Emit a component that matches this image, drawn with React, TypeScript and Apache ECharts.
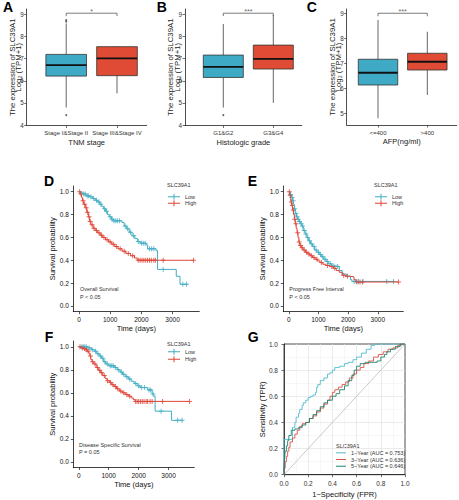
import { useEffect, useRef } from 'react';
import * as echarts from 'echarts';

const FONT = '"Liberation Sans", Arial, Helvetica, sans-serif';
const BOX_BLUE = '#3FAAC6';
const BOX_RED = '#E04B35';
const KM_LOW = '#41AEC3';
const KM_HIGH = '#DF4537';
const ROC_1 = '#52BCCD';
const ROC_3 = '#D9534A';
const ROC_5 = '#1E8470';

// ---------- Panels A–C (box plots) ----------
const catsA = ['Stage I&Stage II', 'Stage III&Stage IV'];
const catsB = ['G1&G2', 'G3&G4'];
const catsC = ['<=400', '>400'];
// [min, Q1, median, Q3, max]
const boxA = [[4.79, 6.21, 6.71, 7.19, 8.59], [5.43, 6.23, 7.01, 7.54, 7.56]];
const boxB = [[4.79, 6.15, 6.63, 7.16, 8.56], [5.0, 6.53, 6.99, 7.61, 8.97]];
const boxC = [[4.8, 6.13, 6.62, 7.16, 8.73], [5.73, 6.73, 7.06, 7.4, 8.26]];
const outA = [[1, 8.74], [1, 8.67], [1, 4.45]];
const outB = [[1, 4.45]];
const outC: number[][] = [];
const sigA = '*';
const sigB = '***';
const sigC = '***';
const yTicksAB = [4, 5, 6, 7, 8, 9];
const yTicksC = [5, 6, 7, 8, 9];

// ---------- Panels D–F (Kaplan–Meier) [time, survival] ----------
const osLow = [[0, 1], [60, 0.99], [130, 0.98], [210, 0.965], [330, 0.955], [440, 0.94], [520, 0.925], [600, 0.91], [670, 0.89], [730, 0.87], [790, 0.85], [850, 0.83], [910, 0.8], [970, 0.78], [1040, 0.76], [1100, 0.745], [1380, 0.73], [1450, 0.7], [1530, 0.675], [1610, 0.645], [1700, 0.615], [1790, 0.59], [1880, 0.565], [1960, 0.55], [2150, 0.535], [2200, 0.5], [2470, 0.485], [2520, 0.32], [3120, 0.26], [3240, 0.19], [3480, 0.19]];
const osHigh = [[0, 1], [40, 0.98], [80, 0.95], [110, 0.92], [150, 0.89], [200, 0.86], [250, 0.82], [300, 0.78], [340, 0.74], [380, 0.71], [450, 0.68], [520, 0.66], [600, 0.64], [680, 0.62], [760, 0.6], [850, 0.58], [950, 0.56], [1050, 0.54], [1150, 0.52], [1250, 0.5], [1380, 0.48], [1500, 0.46], [1650, 0.44], [1780, 0.42], [1870, 0.4], [3675, 0.4]];
const osLowCens = [150, 200, 260, 300, 380, 470, 560, 640, 700, 820, 880, 1000, 1060, 1120, 1180, 1230, 1300, 1480, 1560, 1650, 1750, 1900, 2000, 2060, 2120, 2260, 2330, 2400, 2700, 3330, 3450];
const osHighCens = [20, 60, 130, 180, 230, 270, 320, 360, 420, 480, 560, 640, 720, 800, 900, 1000, 1100, 1200, 1320, 1450, 1580, 1720, 1900, 1960, 2020, 2080, 2140, 2200, 2260, 2320, 2400, 2450, 2700, 3675];

const pfiLow = [[0, 1], [40, 0.975], [90, 0.95], [130, 0.92], [160, 0.89], [190, 0.85], [220, 0.81], [260, 0.78], [300, 0.76], [340, 0.74], [400, 0.72], [440, 0.7], [490, 0.66], [550, 0.63], [610, 0.6], [670, 0.57], [730, 0.545], [800, 0.52], [870, 0.49], [950, 0.47], [1030, 0.45], [1100, 0.43], [1180, 0.41], [1260, 0.39], [1330, 0.37], [1450, 0.35], [1600, 0.345], [1700, 0.31], [1800, 0.28], [1950, 0.26], [2080, 0.23], [2130, 0.215], [3530, 0.215]];
const pfiHigh = [[0, 1], [30, 0.97], [60, 0.94], [80, 0.91], [100, 0.88], [130, 0.84], [160, 0.8], [190, 0.76], [220, 0.72], [250, 0.68], [280, 0.64], [310, 0.6], [340, 0.56], [370, 0.53], [420, 0.51], [480, 0.49], [560, 0.47], [640, 0.455], [720, 0.44], [800, 0.425], [880, 0.41], [960, 0.395], [1050, 0.38], [1150, 0.365], [1250, 0.355], [1380, 0.345], [1500, 0.33], [1600, 0.31], [1700, 0.295], [1800, 0.27], [1900, 0.26], [2050, 0.255], [2200, 0.23], [2260, 0.21], [3700, 0.21]];
const pfiLowCens = [60, 110, 150, 200, 240, 280, 320, 360, 420, 460, 520, 580, 640, 700, 760, 850, 920, 1000, 1070, 1150, 1220, 1300, 1400, 1520, 1650, 2200, 2280, 2350, 2500, 3300, 3530];
const pfiHighCens = [20, 50, 90, 120, 150, 200, 240, 300, 350, 400, 450, 520, 600, 680, 760, 850, 950, 1100, 1300, 1450, 1550, 1850, 1980, 2300, 2400, 2480, 3700];

const dssLow = [[0, 1], [300, 0.99], [420, 0.975], [520, 0.96], [600, 0.94], [680, 0.92], [760, 0.9], [830, 0.87], [900, 0.85], [1000, 0.835], [1200, 0.82], [1280, 0.8], [1380, 0.78], [1460, 0.76], [1550, 0.74], [1650, 0.72], [1750, 0.7], [1850, 0.68], [1950, 0.66], [2050, 0.645], [2300, 0.625], [2450, 0.59], [2500, 0.57], [2550, 0.44], [3100, 0.36], [3480, 0.36]];
const dssHigh = [[0, 1], [80, 0.99], [150, 0.985], [220, 0.975], [280, 0.96], [330, 0.945], [370, 0.92], [400, 0.89], [440, 0.87], [500, 0.85], [580, 0.82], [650, 0.795], [720, 0.775], [800, 0.75], [880, 0.725], [940, 0.705], [1020, 0.69], [1100, 0.67], [1180, 0.655], [1260, 0.635], [1350, 0.615], [1450, 0.6], [1550, 0.585], [1650, 0.57], [1750, 0.555], [1820, 0.54], [1880, 0.525], [3700, 0.525]];
const dssLowCens = [100, 150, 200, 250, 350, 450, 560, 640, 720, 800, 870, 950, 1050, 1100, 1150, 1220, 1320, 1420, 1500, 1600, 1700, 1900, 2000, 2100, 2200, 2350, 2400, 2480, 2750, 3300, 3450];
const dssHighCens = [40, 120, 190, 250, 310, 390, 460, 540, 620, 700, 760, 850, 960, 1060, 1140, 1220, 1300, 1400, 1500, 1600, 1700, 1900, 1950, 2000, 2060, 2120, 2180, 2250, 2300, 2380, 2450, 2800, 3700];

const kmTimeTicks = [0, 1000, 2000, 3000];
const kmProbTicks = [0, 0.2, 0.4, 0.6, 0.8, 1.0];

// ---------- Panel G (ROC) [FPR, TPR] ----------
const roc1 = [[0, 0], [0, 0.27], [0.07, 0.27], [0.07, 0.34], [0.09, 0.36], [0.1, 0.4], [0.12, 0.44], [0.13, 0.47], [0.15, 0.5], [0.16, 0.53], [0.18, 0.55], [0.2, 0.57], [0.22, 0.59], [0.24, 0.6], [0.26, 0.61], [0.27, 0.63], [0.28, 0.67], [0.3, 0.69], [0.33, 0.72], [0.36, 0.74], [0.38, 0.77], [0.4, 0.78], [0.42, 0.8], [0.46, 0.82], [0.5, 0.83], [0.53, 0.85], [0.57, 0.86], [0.6, 0.88], [0.64, 0.9], [0.68, 0.93], [0.72, 0.96], [0.75, 0.99], [0.77, 1.0], [1, 1]];
const roc3 = [[0, 0], [0.01, 0.05], [0.02, 0.1], [0.03, 0.14], [0.04, 0.18], [0.05, 0.21], [0.07, 0.25], [0.09, 0.28], [0.11, 0.31], [0.13, 0.34], [0.15, 0.37], [0.18, 0.39], [0.21, 0.4], [0.24, 0.43], [0.27, 0.45], [0.3, 0.48], [0.33, 0.51], [0.36, 0.54], [0.38, 0.57], [0.4, 0.6], [0.42, 0.63], [0.45, 0.65], [0.48, 0.67], [0.51, 0.69], [0.54, 0.71], [0.57, 0.74], [0.6, 0.77], [0.63, 0.8], [0.66, 0.82], [0.7, 0.85], [0.74, 0.87], [0.78, 0.9], [0.82, 0.92], [0.86, 0.94], [0.9, 0.96], [0.94, 0.97], [0.97, 0.99], [1, 1]];
const roc5 = [[0, 0], [0.005, 0.06], [0.01, 0.12], [0.02, 0.18], [0.03, 0.22], [0.04, 0.26], [0.06, 0.3], [0.09, 0.34], [0.12, 0.35], [0.15, 0.36], [0.18, 0.38], [0.21, 0.4], [0.24, 0.43], [0.27, 0.46], [0.3, 0.49], [0.33, 0.52], [0.36, 0.55], [0.4, 0.57], [0.43, 0.6], [0.46, 0.62], [0.5, 0.65], [0.53, 0.68], [0.56, 0.72], [0.58, 0.76], [0.6, 0.8], [0.63, 0.83], [0.67, 0.85], [0.72, 0.86], [0.77, 0.86], [0.8, 0.87], [0.83, 0.9], [0.85, 0.92], [0.88, 0.94], [0.92, 0.96], [0.96, 0.98], [1, 1]];
const rocNames = ['1\u2212Year (AUC = 0.753)', '3\u2212Year (AUC = 0.636)', '5\u2212Year (AUC = 0.646)'];
const diag = [[0, 0], [1, 1]];

// ---------- helpers ----------
const KM_ICON = 'path://M0,3 L12,3 L12,4 L0,4 Z M5.5,0.5 L6.5,0.5 L6.5,6.5 L5.5,6.5 Z';
const CENSOR = 'path://M0,2 L5,2 L5,3 L0,3 Z M2,0 L3,0 L3,5 L2,5 Z';
const LINE_ICON = 'path://M0,0 L10,0 L10,1 L0,1 Z';

function survivalAt(steps: number[][], t: number) {
  let s = steps[0][1];
  for (const p of steps) {
    if (p[0] <= t) s = p[1];
  }
  return s;
}

const grids: any[] = [];
const xAxes: any[] = [];
const yAxes: any[] = [];
const series: any[] = [];

function addBoxPanel(g: any, cats: string[], stats: number[][], outliers: number[][], sig: string,
  xr: number[], yr: number[], yTicks: number[], xName: string, brk: number[]) {
  const i = grids.length;
  grids.push({ ...g, outerBoundsMode: 'none', containLabel: false });
  xAxes.push({
    type: 'value', gridIndex: i, min: xr[0], max: xr[1],
    axisLine: { show: true, onZero: false, lineStyle: { color: '#222', width: 0.8 } },
    axisTick: { show: true, customValues: [1, 2], length: 2.5, lineStyle: { color: '#333', width: 0.7 } },
    axisLabel: { customValues: [1, 2], formatter: (v: number) => cats[Math.round(v) - 1], fontSize: 6, color: '#333', margin: 4.6, fontFamily: FONT },
    splitLine: { show: false },
    name: xName, nameLocation: 'middle', nameGap: 12.5, nameMoveOverlap: false,
    nameTextStyle: { fontSize: 7.5, color: '#222', fontFamily: FONT },
  });
  yAxes.push({
    type: 'value', gridIndex: i, min: yr[0], max: yr[1],
    axisLine: { show: true, onZero: false, lineStyle: { color: '#222', width: 0.8 } },
    axisTick: { show: true, customValues: yTicks, length: 2.5, lineStyle: { color: '#333', width: 0.7 } },
    axisLabel: { customValues: yTicks, formatter: (v: number) => String(v), fontSize: 6.3, color: '#333', margin: 3, fontFamily: FONT },
    splitLine: { show: false },
    name: 'The expression of SLC39A1\nLog\u2082 (TPM+1)', nameLocation: 'middle', nameGap: 4.5, nameRotate: 90, nameMoveOverlap: false,
    nameTextStyle: { fontSize: 7.8, lineHeight: 6.5, color: '#222', fontFamily: FONT },
  });
  const fills = [BOX_BLUE, BOX_RED];
  series.push({
    type: 'custom', xAxisIndex: i, yAxisIndex: i,
    data: stats.map((s, k) => [k + 1, ...s]),
    encode: { x: 0, y: [1, 2, 3, 4, 5] },
    renderItem: (params: any, api: any) => {
      const x = api.value(0);
      const w = api.size([0.8, 0])[0];
      const pMin = api.coord([x, api.value(1)]);
      const pQ1 = api.coord([x, api.value(2)]);
      const pMd = api.coord([x, api.value(3)]);
      const pQ3 = api.coord([x, api.value(4)]);
      const pMax = api.coord([x, api.value(5)]);
      const wl = { stroke: '#666', lineWidth: 1 };
      return {
        type: 'group',
        children: [
          { type: 'line', shape: { x1: pMin[0], y1: pMin[1], x2: pQ1[0], y2: pQ1[1] }, style: wl },
          { type: 'line', shape: { x1: pQ3[0], y1: pQ3[1], x2: pMax[0], y2: pMax[1] }, style: wl },
          { type: 'rect', shape: { x: pQ3[0] - w / 2, y: pQ3[1], width: w, height: pQ1[1] - pQ3[1] }, style: { fill: fills[params.dataIndex], stroke: '#333', lineWidth: 0.8 } },
          { type: 'line', shape: { x1: pMd[0] - w / 2, y1: pMd[1], x2: pMd[0] + w / 2, y2: pMd[1] }, style: { stroke: '#111', lineWidth: 1.8 } },
        ],
      };
    },
  });
  series.push({ type: 'scatter', xAxisIndex: i, yAxisIndex: i, data: outliers, symbolSize: 2, itemStyle: { color: '#444' }, silent: true });
  series.push({
    type: 'line', xAxisIndex: i, yAxisIndex: i, symbol: 'none', silent: true,
    data: [[1, brk[0]], [1, brk[1]], [2, brk[1]], [2, brk[0]]],
    lineStyle: { color: '#444', width: 0.7 },
  });
  series.push({
    type: 'scatter', xAxisIndex: i, yAxisIndex: i, data: [[1.5, brk[2]]], symbolSize: 1, silent: true,
    itemStyle: { color: 'rgba(0,0,0,0)' },
    label: { show: true, position: 'inside', formatter: sig, fontSize: 7, color: '#333', fontFamily: FONT },
  });
}

function addKmPanel(g: any, low: number[][], high: number[][], lowC: number[], highC: number[], yGap: number) {
  const i = grids.length;
  grids.push({ ...g, outerBoundsMode: 'none', containLabel: false });
  xAxes.push({
    type: 'value', gridIndex: i, min: -184, max: 3859,
    axisLine: { show: true, onZero: false, lineStyle: { color: '#111', width: 0.8 } },
    axisTick: { show: true, customValues: kmTimeTicks, length: 2.5, lineStyle: { color: '#111', width: 0.7 } },
    axisLabel: { customValues: kmTimeTicks, formatter: (v: number) => String(v), fontSize: 6.5, color: '#111', margin: 4, fontFamily: FONT },
    splitLine: { show: false },
    name: 'Time (days)', nameLocation: 'middle', nameGap: 12.5, nameMoveOverlap: false,
    nameTextStyle: { fontSize: 7.5, color: '#111', fontFamily: FONT },
  });
  yAxes.push({
    type: 'value', gridIndex: i, min: -0.05, max: 1.05,
    axisLine: { show: true, onZero: false, lineStyle: { color: '#111', width: 0.8 } },
    axisTick: { show: true, customValues: kmProbTicks, length: 2.5, lineStyle: { color: '#111', width: 0.7 } },
    axisLabel: { customValues: kmProbTicks, formatter: (v: number) => v.toFixed(1), fontSize: 6.5, color: '#111', margin: 4.5, fontFamily: FONT },
    splitLine: { show: false },
    name: 'Survival probability', nameLocation: 'middle', nameGap: yGap, nameRotate: 90, nameMoveOverlap: false,
    nameTextStyle: { fontSize: 7.5, color: '#111', fontFamily: FONT },
  });
  const mk = (name: string, data: number[][], color: string) => ({
    name, type: 'line', step: 'end', data, symbol: 'none', xAxisIndex: i, yAxisIndex: i, silent: true,
    lineStyle: { color, width: 1 }, itemStyle: { color },
  });
  const cens = (name: string, steps: number[][], times: number[], color: string) => ({
    name, type: 'scatter', xAxisIndex: i, yAxisIndex: i, silent: true,
    data: times.map((t) => [t, survivalAt(steps, t)]),
    symbol: CENSOR, symbolSize: 5, itemStyle: { color },
  });
  series.push(mk('Low', low, KM_LOW), mk('High', high, KM_HIGH));
  series.push(cens('Low censored', low, lowC, KM_LOW), cens('High censored', high, highC, KM_HIGH));
}

addBoxPanel({ left: 26.7, top: 9, width: 120, height: 116.5 }, catsA, boxA, outA, sigA, [0.222, 2.585], [3.98, 9.24], yTicksAB, 'TNM stage', [8.92, 9.05, 9.13]);
addBoxPanel({ left: 185, top: 9, width: 116.7, height: 116.5 }, catsB, boxB, outB, sigB, [0.234, 2.568], [3.98, 9.24], yTicksAB, 'Histologic grade', [8.92, 9.05, 9.13]);
addBoxPanel({ left: 346.7, top: 9, width: 110, height: 116 }, catsC, boxC, outC, sigC, [0.365, 2.596], [4.53, 9.17], yTicksC, 'AFP(ng/ml)', [8.88, 9.0, 9.08]);

addKmPanel({ left: 73.3, top: 186, width: 126, height: 125.7 }, osLow, osHigh, osLowCens, osHighCens, 17);
addKmPanel({ left: 283.3, top: 186, width: 120, height: 125.7 }, pfiLow, pfiHigh, pfiLowCens, pfiHighCens, 17.3);
addKmPanel({ left: 73.3, top: 341, width: 121, height: 126.5 }, dssLow, dssHigh, dssLowCens, dssHighCens, 17);

// ROC panel
{
  const i = grids.length;
  grids.push({ left: 284, top: 344, width: 121, height: 130.7, show: true, borderColor: '#222', borderWidth: 0.8, backgroundColor: 'rgba(0,0,0,0)', outerBoundsMode: 'none', containLabel: false });
  const common = {
    type: 'value', gridIndex: i, min: 0, max: 1, interval: 0.2,
    axisLine: { show: true, onZero: false, lineStyle: { color: '#222', width: 0.8 } },
    axisTick: { show: true, length: 2.5, lineStyle: { color: '#333', width: 0.7 } },
    axisLabel: { formatter: (v: number) => v.toFixed(1), fontSize: 6.5, color: '#333', fontFamily: FONT },
    splitLine: { show: true, showMinLine: false, showMaxLine: false, lineStyle: { color: '#e3e3e3', width: 0.7 } },
    minorTick: { show: false, splitNumber: 2 },
    minorSplitLine: { show: true, lineStyle: { color: '#efefef', width: 0.5 } },
    nameLocation: 'middle', nameMoveOverlap: false,
    nameTextStyle: { fontSize: 7.5, color: '#111', fontFamily: FONT },
  };
  xAxes.push({ ...common, axisLabel: { ...common.axisLabel, margin: 5.5 }, name: '1\u2212Specificity (FPR)', nameGap: 15.5 });
  yAxes.push({ ...common, axisLabel: { ...common.axisLabel, margin: 6 }, name: 'Sensitivity (TPR)', nameGap: 18, nameRotate: 90 });
  series.push({ type: 'line', xAxisIndex: i, yAxisIndex: i, data: diag, symbol: 'none', silent: true, lineStyle: { color: '#bdbdbd', width: 0.8 } });
  const rocs = [roc1, roc3, roc5];
  const cols = [ROC_1, ROC_3, ROC_5];
  rocs.forEach((d, k) => {
    series.push({
      name: rocNames[k], type: 'line', step: 'start', data: d, symbol: 'none', silent: true,
      xAxisIndex: i, yAxisIndex: i, lineStyle: { color: cols[k], width: 0.9 }, itemStyle: { color: cols[k] },
    });
  });
}

const legendText = { fontSize: 5.5, color: '#333', fontFamily: FONT };
const legends: any[] = [
  { left: 168, top: 193.8, itemGap: 0.4 },
  { left: 375, top: 193.8, itemGap: 0.4 },
  { left: 168, top: 348.8, itemGap: 1.4 },
].map((p) => ({
  ...p, orient: 'vertical', padding: 0, itemWidth: 12, itemHeight: 7, selectedMode: false,
  icon: KM_ICON, itemStyle: { borderWidth: 0 }, textStyle: legendText,
  data: ['Low', 'High'],
}));
legends.push({
  left: 336, top: 449.8, itemGap: 0.7, orient: 'vertical', padding: 0, itemWidth: 10, itemHeight: 7, selectedMode: false,
  icon: LINE_ICON, itemStyle: { borderWidth: 0 }, textStyle: legendText, data: rocNames,
});

const letter = (t: string, x: number, y: number) => ({
  type: 'text', x, y, silent: true,
  style: { text: t, fontSize: 14, fontWeight: 'bold', fill: '#000', fontFamily: FONT, align: 'center', verticalAlign: 'middle' },
});
const note = (t: string, x: number, y: number) => ({
  type: 'text', x, y, silent: true,
  style: { text: t, fontSize: 5.5, fill: '#333', fontFamily: FONT, align: 'left', verticalAlign: 'middle' },
});

const graphic = [
  letter('A', 8, 7), letter('B', 161.7, 7), letter('C', 311.7, 7),
  letter('D', 49, 181), letter('E', 252.5, 181), letter('F', 49, 336.7), letter('G', 253.3, 337),
  note('SLC39A1', 167, 185.3), note('SLC39A1', 374, 185.3), note('SLC39A1', 167, 344), note('SLC39A1', 336, 445.7),
  note('Overall Survival', 80, 289), note('P < 0.05', 80, 297),
  note('Progress Free Interval', 289.3, 289), note('P < 0.05', 289.3, 297),
  note('Disease Specific Survival', 79, 445), note('P = 0.05', 79, 452.3),
];

const option = {
  animation: false,
  backgroundColor: '#ffffff',
  textStyle: { fontFamily: FONT },
  grid: grids,
  xAxis: xAxes,
  yAxis: yAxes,
  legend: legends,
  series,
  graphic,
};

export default function App() {
  const ref = useRef<HTMLDivElement>(null);
  useEffect(() => {
    const chart = echarts.init(ref.current as HTMLDivElement, null, { renderer: 'svg' });
    chart.setOption(option as any);
    return () => chart.dispose();
  }, []);
  return (
    <div
      ref={ref}
      style={{ position: 'absolute', left: 0, top: 0, width: 459, height: 500, background: '#fff' }}
    />
  );
}
